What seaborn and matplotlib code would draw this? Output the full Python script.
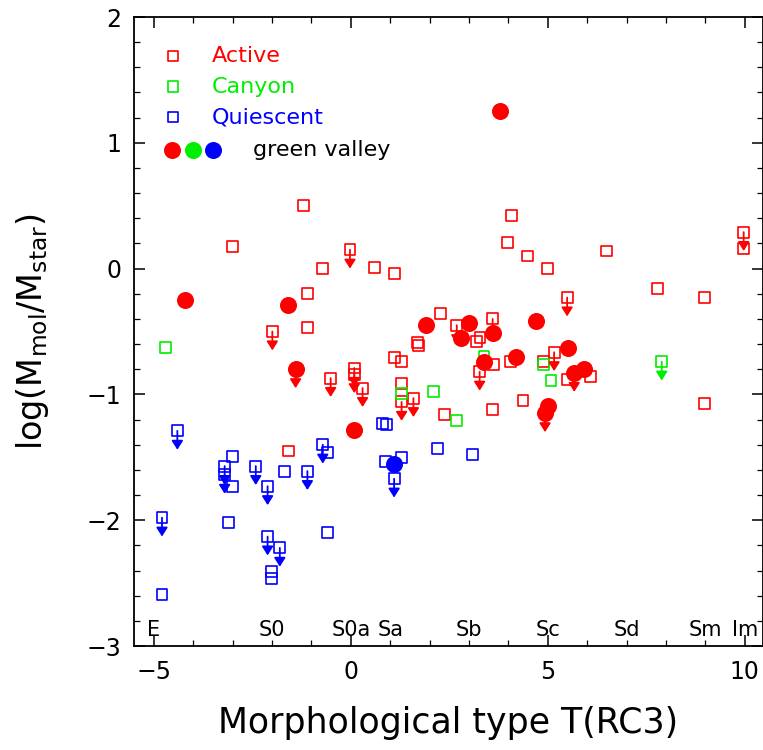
import numpy as np
import pandas as pd
import matplotlib
matplotlib.use("Agg")
import matplotlib.pyplot as plt
import seaborn as sns

# ---------------- data ----------------
# Active galaxies (open red squares); ul = 1 -> upper limit (arrow)
act_T = [-2.99, -1.21, -0.02, -0.71, 0.60, 1.10, -1.09, -1.09, -1.99, 2.28,
         1.70, 1.72, 1.10, 1.29, -0.51, 0.09, 0.09, 0.30, 1.29, 1.29,
         1.59, 2.38, -1.59, 2.69, 3.60, 3.19, 3.28, 4.06, 3.62, 3.27,
         3.60, 4.37, 4.09, 3.98, 4.48, 4.99, 6.49, 7.78, 8.98, 9.97,
         9.97, 5.49, 5.16, 4.88, 5.50, 6.09, 8.98]
act_y = [0.175, 0.50, 0.15, 0.00, 0.01, -0.04, -0.20, -0.47, -0.50, -0.36,
         -0.59, -0.61, -0.71, -0.74, -0.87, -0.79, -0.84, -0.95, -0.91, -1.06,
         -1.03, -1.16, -1.45, -0.45, -0.40, -0.58, -0.55, -0.74, -0.76, -0.82,
         -1.12, -1.05, 0.42, 0.21, 0.10, 0.00, 0.14, -0.16, -0.23, 0.29,
         0.16, -0.23, -0.665, -0.74, -0.88, -0.86, -1.07]
act_ul = [0, 0, 1, 0, 0, 0, 0, 0, 1, 0,
          0, 0, 0, 0, 1, 1, 1, 1, 0, 1,
          1, 0, 0, 1, 1, 0, 0, 0, 0, 1,
          0, 0, 0, 0, 0, 0, 0, 0, 0, 1,
          0, 1, 1, 0, 0, 0, 0]

# Canyon galaxies (open green squares)
can_T = [-4.70, 2.09, 2.69, 1.29, 3.38, 4.88, 5.08, 7.89]
can_y = [-0.63, -0.98, -1.21, -0.99, -0.70, -0.76, -0.89, -0.74]
can_ul = [0, 0, 0, 0, 0, 0, 0, 1]

# Quiescent galaxies (open blue squares)
qui_T = [-4.40, -4.79, -4.79, -2.99, -3.20, -3.20, -2.99, -2.41, -2.11, -1.69,
         -1.10, -3.10, -2.11, -1.80, -2.01, -2.01, -0.71, -0.58, -0.60, 0.80,
         0.91, 0.89, 1.29, 1.10, 2.20, 3.08]
qui_y = [-1.29, -1.98, -2.59, -1.49, -1.57, -1.64, -1.73, -1.57, -1.73, -1.61,
         -1.61, -2.02, -2.13, -2.22, -2.41, -2.46, -1.40, -1.465, -2.10, -1.23,
         -1.24, -1.53, -1.50, -1.67, -1.43, -1.48]
qui_ul = [1, 1, 0, 0, 1, 1, 0, 1, 1, 0,
          1, 0, 1, 1, 0, 0, 1, 0, 0, 0,
          0, 0, 0, 1, 0, 0]

# Green-valley galaxies (filled circles)
gv_red_T = [3.78, -4.20, -1.60, -1.40, 1.90, 0.08, 3.00, 2.79, 3.60, 4.70,
            4.19, 3.38, 5.50, 5.67, 5.91, 5.00, 4.93]
gv_red_y = [1.25, -0.25, -0.29, -0.80, -0.45, -1.28, -0.43, -0.55, -0.51, -0.42,
            -0.70, -0.74, -0.63, -0.83, -0.80, -1.09, -1.15]
gv_red_ul = [0, 0, 0, 1, 0, 0, 0, 0, 0, 0,
             0, 0, 0, 1, 0, 0, 1]
gv_blue_T = [1.09]
gv_blue_y = [-1.555]
gv_blue_ul = [0]

# Morphological-type labels
morph_names = ["E", "S0", "S0a", "Sa", "Sb", "Sc", "Sd", "Sm", "Im"]
morph_T = [-5, -2, 0, 1, 3, 5, 7, 9, 10]

legend_names = ["Active", "Canyon", "Quiescent"]

# ---------------- style ----------------
sns.set_theme(style="white")
plt.rcParams["font.family"] = ["DejaVu Sans"]
plt.rcParams["mathtext.default"] = "regular"
plt.rcParams["text.color"] = "black"
plt.rcParams["axes.labelcolor"] = "black"
plt.rcParams["xtick.color"] = "black"
plt.rcParams["ytick.color"] = "black"

RED, GREEN, BLUE = "#ff0000", "#00ee00", "#0000ff"

fig = plt.figure(figsize=(7.63, 7.5), dpi=100)
ax = fig.add_axes([134 / 763, 104 / 750, 629 / 763, 629 / 750])

ARROW_LEN = 0.15


def draw_arrows(T, y, ul, color):
    for t, v, u in zip(T, y, ul):
        if u:
            ax.annotate("", xy=(t, v - ARROW_LEN), xytext=(t, v),
                        arrowprops=dict(arrowstyle="-|>,head_length=0.38,head_width=0.24",
                                        color=color, lw=1.3, shrinkA=0, shrinkB=0,
                                        mutation_scale=14),
                        zorder=4)


def draw_open(T, y, ul, color):
    df = pd.DataFrame({"T": T, "y": y})
    sns.scatterplot(data=df, x="T", y="y", marker="s", s=62, fc="none",
                    ec=color, linewidth=1.2, ax=ax, zorder=3)
    draw_arrows(T, y, ul, color)


def draw_filled(T, y, ul, color):
    df = pd.DataFrame({"T": T, "y": y})
    sns.scatterplot(data=df, x="T", y="y", marker="o", s=150, color=color,
                    linewidth=0, ax=ax, zorder=5)
    draw_arrows(T, y, ul, color)


draw_open(act_T, act_y, act_ul, RED)
draw_open(can_T, can_y, can_ul, GREEN)
draw_open(qui_T, qui_y, qui_ul, BLUE)
draw_filled(gv_red_T, gv_red_y, gv_red_ul, RED)
draw_filled(gv_blue_T, gv_blue_y, gv_blue_ul, BLUE)

# ---------------- legend (drawn in axes coordinates) ----------------
leg_colors = [RED, GREEN, BLUE]
leg_y = [0.938, 0.889, 0.841]
for name, c, yy in zip(legend_names, leg_colors, leg_y):
    ax.scatter([0.062], [yy], transform=ax.transAxes, marker="s", s=62,
               facecolors="none", edgecolors=c, linewidths=1.2, clip_on=False)
    ax.text(0.124, yy, name, transform=ax.transAxes, color=c, fontsize=16,
            va="center", ha="left")
for xx, c in zip([0.060, 0.094, 0.126], [RED, GREEN, BLUE]):
    ax.scatter([xx], [0.789], transform=ax.transAxes, marker="o", s=150,
               color=c, linewidths=0)
ax.text(0.189, 0.789, "green valley", transform=ax.transAxes, color="black",
        fontsize=16, va="center", ha="left")

# ---------------- morphological labels ----------------
for name, t in zip(morph_names, morph_T):
    ax.text(t, -2.87, name, fontsize=15, ha="center", va="center", color="black")

# ---------------- axes ----------------
ax.set_xlim(-5.5, 10.46)
ax.set_ylim(-3, 2)
ax.set_xticks([-5, 0, 5, 10])
ax.set_yticks([-3, -2, -1, 0, 1, 2])
ax.set_xticks(np.arange(-5, 11, 1), minor=True)
ax.set_yticks(np.arange(-3, 2.01, 0.2), minor=True)
ax.tick_params(which="both", direction="in", top=True, right=True,
               bottom=True, left=True, colors="black")
ax.tick_params(which="major", length=8, width=1.1, labelsize=17)
ax.tick_params(which="minor", length=4, width=0.9)
ax.tick_params(axis="x", which="major", pad=10)
ax.tick_params(axis="y", which="major", pad=9)
for sp in ax.spines.values():
    sp.set_color("black")
    sp.set_linewidth(1.3)

ax.set_xlabel("Morphological type T(RC3)", fontsize=25, labelpad=16, color="black")
ax.set_ylabel("log(M$_{mol}$/M$_{star}$)", fontsize=24, labelpad=26, color="black")

fig.savefig("out.png", dpi=100, facecolor="white")
